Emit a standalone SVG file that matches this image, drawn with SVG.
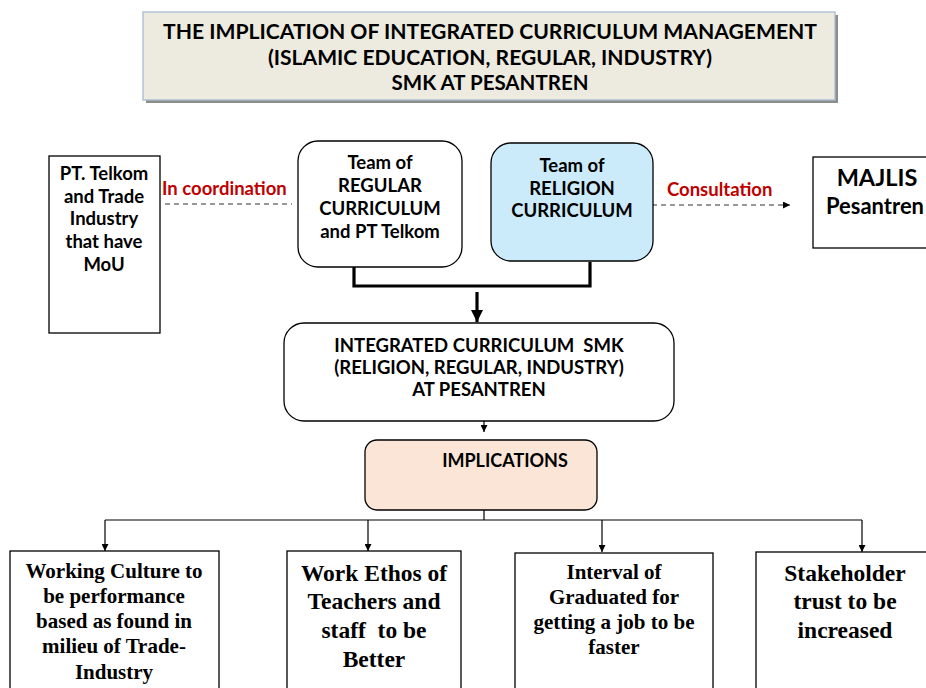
<svg xmlns="http://www.w3.org/2000/svg" width="926" height="688" viewBox="0 0 926 688">
<defs>
<style>
.sans{font-family:Lato,"Liberation Sans",sans-serif;fill:#000;text-anchor:middle}
.b{font-weight:bold}
.serif{font-family:"Liberation Serif","Times New Roman",serif;font-weight:bold;fill:#000;text-anchor:middle}
.red{font-family:Lato,"Liberation Sans",sans-serif;fill:#C00000;font-weight:bold;font-size:18.5px}
.box{fill:#fff;stroke:#000;stroke-width:1.3}
.thin{fill:none;stroke:#000;stroke-width:1.2}
.dash{fill:none;stroke:#333;stroke-width:1.2;stroke-dasharray:5 4}
.thick{fill:none;stroke:#000;stroke-width:3.2}
</style>
<marker id="ah" viewBox="0 0 10 10" refX="10" refY="5" markerWidth="7" markerHeight="7" markerUnits="userSpaceOnUse" orient="auto">
<path d="M0,0 L10,5 L0,10 z" fill="#000"/>
</marker>
<marker id="ahb" viewBox="0 0 10 10" refX="10" refY="5" markerWidth="12" markerHeight="12" markerUnits="userSpaceOnUse" orient="auto">
<path d="M0,0 L10,5 L0,10 z" fill="#000"/>
</marker>
</defs>
<rect width="926" height="688" fill="#fff"/>

<g id="title">
<rect x="146" y="15" width="692" height="88" fill="#8c8c8c"/>
<rect x="143" y="12" width="692" height="88" fill="#EDEBE0" stroke="#A8BCD4" stroke-width="1.3"/>
<text class="sans b" x="490" y="39" font-size="20" textLength="654" lengthAdjust="spacingAndGlyphs">THE IMPLICATION OF INTEGRATED CURRICULUM MANAGEMENT</text>
<text class="sans b" x="490" y="65" font-size="20" textLength="444" lengthAdjust="spacingAndGlyphs">(ISLAMIC EDUCATION, REGULAR, INDUSTRY)</text>
<text class="sans b" x="490" y="90" font-size="20" textLength="197" lengthAdjust="spacingAndGlyphs">SMK AT PESANTREN</text>
</g>

<g id="connectors">
<line class="dash" x1="165" y1="204" x2="292" y2="204"/>
<line class="dash" x1="643" y1="205" x2="790" y2="205" marker-end="url(#ah)"/>
<polyline class="thick" points="354,264 354,286 590,286 590,262"/>
<line class="thick" x1="477" y1="292" x2="477" y2="322" marker-end="url(#ahb)"/>
<line class="thin" x1="484" y1="421" x2="484" y2="432" marker-end="url(#ah)"/>
<line class="thin" x1="484" y1="500" x2="484" y2="520"/>
<line class="thin" x1="105" y1="520" x2="862" y2="520"/>
<line class="thin" x1="105" y1="520" x2="105" y2="551" marker-end="url(#ah)"/>
<line class="thin" x1="368" y1="520" x2="368" y2="551" marker-end="url(#ah)"/>
<line class="thin" x1="602" y1="520" x2="602" y2="552" marker-end="url(#ah)"/>
<line class="thin" x1="862" y1="520" x2="862" y2="552" marker-end="url(#ah)"/>
<text class="red" x="162" y="195">In coordination</text>
<text class="red" x="667" y="196">Consultation</text>
</g>

<g id="telkom">
<rect class="box" x="49" y="156" width="111" height="177"/>
<text class="sans b" font-size="18.5" x="104" y="180">PT. Telkom</text>
<text class="sans b" font-size="18.5" x="104" y="203">and Trade</text>
<text class="sans b" font-size="18.5" x="104" y="225">Industry</text>
<text class="sans b" font-size="18.5" x="104" y="248">that have</text>
<text class="sans b" font-size="18.5" x="104" y="271">MoU</text>
</g>

<g id="regular">
<rect class="box" x="298" y="141" width="164" height="126" rx="20"/>
<text class="sans b" font-size="18.5" x="380" y="169">Team of</text>
<text class="sans b" font-size="18.5" x="380" y="192">REGULAR</text>
<text class="sans b" font-size="18.5" x="380" y="215">CURRICULUM</text>
<text class="sans b" font-size="18.5" x="380" y="238">and PT Telkom</text>
</g>

<g id="religion">
<rect x="491" y="143" width="162" height="118" rx="20" fill="#CCEBFA" stroke="#000" stroke-width="1.3"/>
<text class="sans b" font-size="18.5" x="572" y="172">Team of</text>
<text class="sans b" font-size="18.5" x="572" y="195">RELIGION</text>
<text class="sans b" font-size="18.5" x="572" y="217">CURRICULUM</text>
</g>

<g id="majlis">
<rect class="box" x="813" y="157" width="130" height="91"/>
<text class="sans b" font-size="23.5" x="877" y="186">MAJLIS</text>
<text class="sans b" font-size="23.5" x="826" y="214" style="text-anchor:start" textLength="98" lengthAdjust="spacingAndGlyphs">Pesantren</text>
</g>

<g id="integrated">
<rect class="box" x="284" y="323" width="390" height="98" rx="20"/>
<text class="sans b" font-size="18.5" x="479" y="352" xml:space="preserve">INTEGRATED CURRICULUM  SMK</text>
<text class="sans b" font-size="18.5" x="479" y="374">(RELIGION, REGULAR, INDUSTRY)</text>
<text class="sans b" font-size="18.5" x="479" y="396">AT PESANTREN</text>
</g>

<g id="implications">
<rect x="365" y="440" width="232" height="70" rx="12" fill="#FBE5D6" stroke="#000" stroke-width="1.3"/>
<text class="sans b" font-size="18" x="505" y="467">IMPLICATIONS</text>
</g>

<g id="culture">
<rect class="box" x="10" y="551" width="209" height="150"/>
<text class="serif" font-size="21" x="114" y="578">Working Culture to</text>
<text class="serif" font-size="21" x="114" y="603">be performance</text>
<text class="serif" font-size="21" x="114" y="628">based as found in</text>
<text class="serif" font-size="21" x="114" y="653">milieu of Trade-</text>
<text class="serif" font-size="21" x="114" y="679">Industry</text>
</g>

<g id="ethos">
<rect class="box" x="287" y="551" width="174" height="150"/>
<text class="serif" font-size="23.5" x="374" y="581">Work Ethos of</text>
<text class="serif" font-size="23.5" x="374" y="609">Teachers and</text>
<text class="serif" font-size="23.5" x="374" y="638" xml:space="preserve">staff  to be</text>
<text class="serif" font-size="23.5" x="374" y="667">Better</text>
</g>

<g id="interval">
<rect class="box" x="515" y="553" width="198" height="150"/>
<text class="serif" font-size="21" x="614" y="579">Interval of</text>
<text class="serif" font-size="21" x="614" y="604">Graduated for</text>
<text class="serif" font-size="21" x="614" y="629">getting a job to be</text>
<text class="serif" font-size="21" x="614" y="654">faster</text>
</g>

<g id="stakeholder">
<rect class="box" x="756" y="552" width="190" height="150"/>
<text class="serif" font-size="23.5" x="845" y="581">Stakeholder</text>
<text class="serif" font-size="23.5" x="845" y="609">trust to be</text>
<text class="serif" font-size="23.5" x="845" y="638">increased</text>
</g>
</svg>
